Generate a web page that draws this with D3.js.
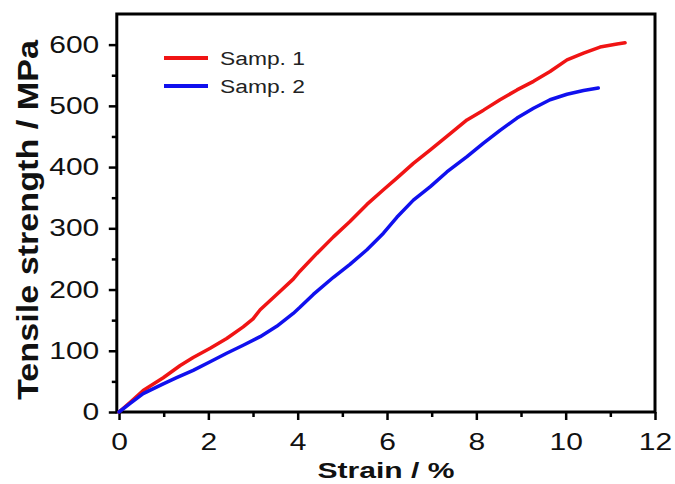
<!DOCTYPE html>
<html>
<head>
<meta charset="utf-8">
<script src="https://cdn.jsdelivr.net/npm/d3@7"></script>
<style>
  body { margin: 0; background: #fff; }
  svg { display: block; }
  text { font-family: "Liberation Sans", Arial, sans-serif; }
</style>
</head>
<body>
<svg id="chart" width="675" height="484"></svg>
<script>
// values
const samp1Strain = [0, 0.25, 0.54, 0.99, 1.37, 1.66, 2.04, 2.41, 2.78, 3.0, 3.16, 3.53, 3.9, 4.05, 4.43, 4.8, 5.17, 5.55, 5.92, 6.22, 6.59, 6.97, 7.34, 7.79, 8.16, 8.53, 8.91, 9.28, 9.65, 10.03, 10.4, 10.77, 11.15, 11.33];
const samp1Stress = [0, 16, 35, 56, 76, 89, 104, 120, 139, 152, 167, 192, 217, 230, 259, 286, 311, 339, 363, 382, 406, 428, 450, 477, 493, 510, 526, 540, 556, 575, 586, 596, 601, 603];

const samp2Strain = [0, 0.25, 0.54, 0.99, 1.29, 1.66, 2.04, 2.41, 2.78, 3.16, 3.53, 3.9, 4.05, 4.35, 4.8, 5.17, 5.55, 5.92, 6.22, 6.59, 6.97, 7.34, 7.79, 8.16, 8.53, 8.91, 9.28, 9.65, 10.03, 10.4, 10.73];
const samp2Stress = [0, 14, 30, 46, 56, 68, 82, 96, 109, 123, 140, 161, 171, 192, 220, 241, 265, 292, 318, 346, 368, 392, 417, 439, 460, 480, 496, 510, 519, 525, 529];

const seriesNames = ["Samp. 1", "Samp. 2"];
const seriesColors = ["#f01414", "#1010ee"];

const xMajor = [0, 2, 4, 6, 8, 10, 12];
const xMinor = [1, 3, 5, 7, 9, 11];
const yMajor = [0, 100, 200, 300, 400, 500, 600];
const yMinor = [50, 150, 250, 350, 450, 550];

const svg = d3.select("#chart");
const plotL = 116.8, plotR = 655, plotT = 14, plotB = 412;

const x = d3.scaleLinear().domain([-0.05, 12]).range([plotL, plotR]);
const y = d3.scaleLinear().domain([0, 650]).range([plotB, plotT]);

const series = [
  {name: seriesNames[0], color: seriesColors[0], pts: samp1Strain.map((s, i) => [s, samp1Stress[i]])},
  {name: seriesNames[1], color: seriesColors[1], pts: samp2Strain.map((s, i) => [s, samp2Stress[i]])}
];

// axes
function styleAxis(g) {
  g.select(".domain").remove();
  g.selectAll(".tick line").attr("stroke", "#000").attr("stroke-width", 2.5);
  g.selectAll(".tick text")
    .attr("font-size", 24)
    .attr("fill", "#111")
    .attr("transform", "scale(1.25,1)");
}

svg.append("g")
  .attr("transform", `translate(0,${plotB})`)
  .call(d3.axisBottom(x).tickValues(xMajor).tickSize(8).tickPadding(13))
  .call(styleAxis);
svg.append("g")
  .attr("transform", `translate(0,${plotB})`)
  .call(d3.axisBottom(x).tickValues(xMinor).tickSize(5).tickFormat(""))
  .call(styleAxis);

svg.append("g")
  .attr("transform", `translate(${plotL},0)`)
  .call(d3.axisLeft(y).tickValues(yMajor).tickSize(8).tickPadding(6))
  .call(styleAxis);
svg.append("g")
  .attr("transform", `translate(${plotL},0)`)
  .call(d3.axisLeft(y).tickValues(yMinor).tickSize(5).tickFormat(""))
  .call(styleAxis);

// frame
svg.append("rect")
  .attr("x", plotL).attr("y", plotT)
  .attr("width", plotR - plotL).attr("height", plotB - plotT)
  .attr("fill", "none")
  .attr("stroke", "#000")
  .attr("stroke-width", 3);

// curves
const line = d3.line().x(d => x(d[0])).y(d => y(d[1]));
svg.selectAll(".curve")
  .data(series)
  .join("path")
  .attr("class", "curve")
  .attr("d", d => line(d.pts))
  .attr("fill", "none")
  .attr("stroke", d => d.color)
  .attr("stroke-width", 3.5)
  .attr("stroke-linejoin", "round")
  .attr("stroke-linecap", "round");

// legend
const legend = svg.selectAll(".legend")
  .data(series)
  .join("g")
  .attr("class", "legend")
  .attr("transform", (d, i) => `translate(164,${58 + i * 28})`);
legend.append("line")
  .attr("x1", 0).attr("x2", 44)
  .attr("stroke", d => d.color)
  .attr("stroke-width", 4);
legend.append("text")
  .attr("x", 56).attr("y", 7)
  .attr("font-size", 18)
  .attr("fill", "#222")
  .attr("textLength", 85)
  .attr("lengthAdjust", "spacingAndGlyphs")
  .text(d => d.name);

// axis titles
svg.append("text")
  .attr("x", 386).attr("y", 478)
  .attr("text-anchor", "middle")
  .attr("font-size", 22)
  .attr("font-weight", "bold")
  .attr("fill", "#111")
  .attr("textLength", 137)
  .attr("lengthAdjust", "spacingAndGlyphs")
  .text("Strain / %");

svg.append("text")
  .attr("transform", "translate(38,220) rotate(-90)")
  .attr("text-anchor", "middle")
  .attr("font-size", 30)
  .attr("font-weight", "bold")
  .attr("fill", "#111")
  .attr("textLength", 360)
  .attr("lengthAdjust", "spacingAndGlyphs")
  .text("Tensile strength / MPa");
</script>
</body>
</html>
